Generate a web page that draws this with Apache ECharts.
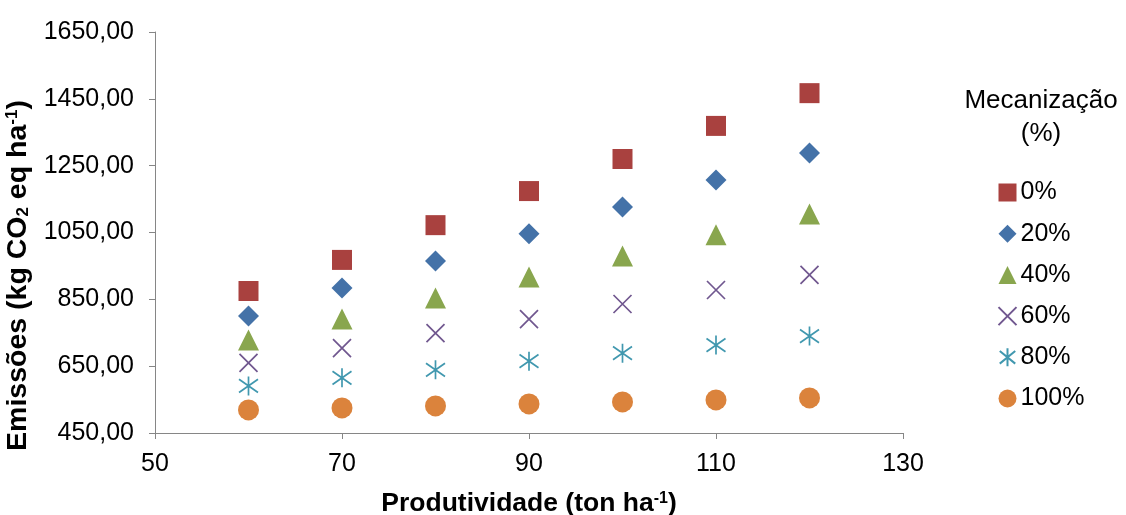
<!DOCTYPE html>
<html>
<head>
<meta charset="utf-8">
<script src="https://cdn.jsdelivr.net/npm/echarts@6/dist/echarts.min.js"></script>
<style>html,body{margin:0;padding:0;background:#fff}#c{width:1126px;height:515px}</style>
</head>
<body>
<div id="c"></div>
<script>
const produtividade = [60, 70, 80, 90, 100, 110, 120];
const mec0   = [875, 968, 1072, 1174, 1270, 1369, 1467];
const mec20  = [800, 884, 965, 1046, 1126, 1207, 1288];
const mec40  = [728, 791, 854, 917, 980, 1043, 1105];
const mec60  = [660, 704, 749, 791, 836, 878, 923];
const mec80  = [591, 615, 639, 665, 689, 713, 740];
const mec100 = [519, 525, 531, 537, 543, 549, 555];
const seriesNames = ['0%', '20%', '40%', '60%', '80%', '100%'];

const chart = echarts.init(document.getElementById('c'));
const font = '"Liberation Sans", Arial, sans-serif';
const pair = arr => produtividade.map((x, i) => [x, arr[i]]);

const X_PATH = 'path://M0,0L10,10M10,0L0,10';
const STAR_PATH = 'path://M5,0L5,10M0.7,1.5L9.3,8.5M9.3,1.5L0.7,8.5';

function filled(name, data, symbol, color, size) {
  return { name, type: 'scatter', data: pair(data), symbol, symbolSize: size,
    itemStyle: { color: color, opacity: 1 } };
}
function stroked(name, data, symbol, color, size) {
  return { name, type: 'scatter', data: pair(data), symbol, symbolSize: size,
    itemStyle: { color: 'none', borderColor: color, borderWidth: 1.7, opacity: 1 } };
}

function makeRich(fs, lh) {
  const base = { fontFamily: font, fontWeight: 'bold', color: '#000', lineHeight: lh };
  return {
    b: Object.assign({}, base, { fontSize: fs }),
    sup: Object.assign({}, base, { fontSize: Math.round(fs * 0.6), verticalAlign: 'top', padding: [1, 0, 0, 0] }),
    sub: Object.assign({}, base, { fontSize: Math.round(fs * 0.6), verticalAlign: 'bottom', padding: [0, 0, 1, 0] })
  };
}

chart.setOption({
  animation: false,
  grid: { left: 155, right: 223, top: 32, bottom: 82, outerBoundsMode: 'none', containLabel: false },
  title: {
    text: 'Mecanização\n(%)',
    left: 1036, top: 79, textAlign: 'center',
    textStyle: { fontFamily: font, fontSize: 26, fontWeight: 'normal', color: '#000', lineHeight: 33, align: 'center' }
  },
  legend: {
    orient: 'vertical', left: 991, top: 175, itemGap: 16.2,
    itemWidth: 18, itemHeight: 18,
    textStyle: { fontFamily: font, fontSize: 25, color: '#000', lineHeight: 25, padding: [0, 0, 0, -1] },
    data: seriesNames
  },
  xAxis: {
    type: 'value', min: 50, max: 130, interval: 20,
    name: '{b|Produtividade (ton ha}{sup|-1}{b|)}', nameLocation: 'middle', nameGap: 57,
    nameTextStyle: { rich: makeRich(26.5, 28) },
    axisLine: { show: true, lineStyle: { color: '#868686', width: 1 } },
    axisTick: { show: true, length: 6, lineStyle: { color: '#868686' } },
    axisLabel: { fontFamily: font, fontSize: 25, color: '#000', margin: 19 },
    splitLine: { show: false }
  },
  yAxis: {
    type: 'value', min: 450, max: 1650, interval: 200,
    name: '{b|Emissões (kg CO}{sub|2}{b| eq ha}{sup|-1}{b|)}', nameLocation: 'middle', nameGap: 103, nameRotate: 90,
    nameTextStyle: { rich: makeRich(28.5, 30), padding: [0, 86, 0, 0] },
    axisLine: { show: true, lineStyle: { color: '#868686', width: 1 } },
    axisTick: { show: true, length: 6, lineStyle: { color: '#868686' } },
    axisLabel: { fontFamily: font, fontSize: 25, color: '#000', margin: 21,
      formatter: v => v.toFixed(2).replace('.', ',') },
    splitLine: { show: false }
  },
  series: [
    filled('0%', mec0, 'rect', '#A9413F', 20),
    filled('20%', mec20, 'diamond', '#4472A8', 21),
    filled('40%', mec40, 'triangle', '#89A64E', 21),
    stroked('60%', mec60, X_PATH, '#70578F', 18),
    stroked('80%', mec80, STAR_PATH, '#4198AF', 19),
    filled('100%', mec100, 'circle', '#DB833C', 21)
  ]
});
</script>
</body>
</html>
